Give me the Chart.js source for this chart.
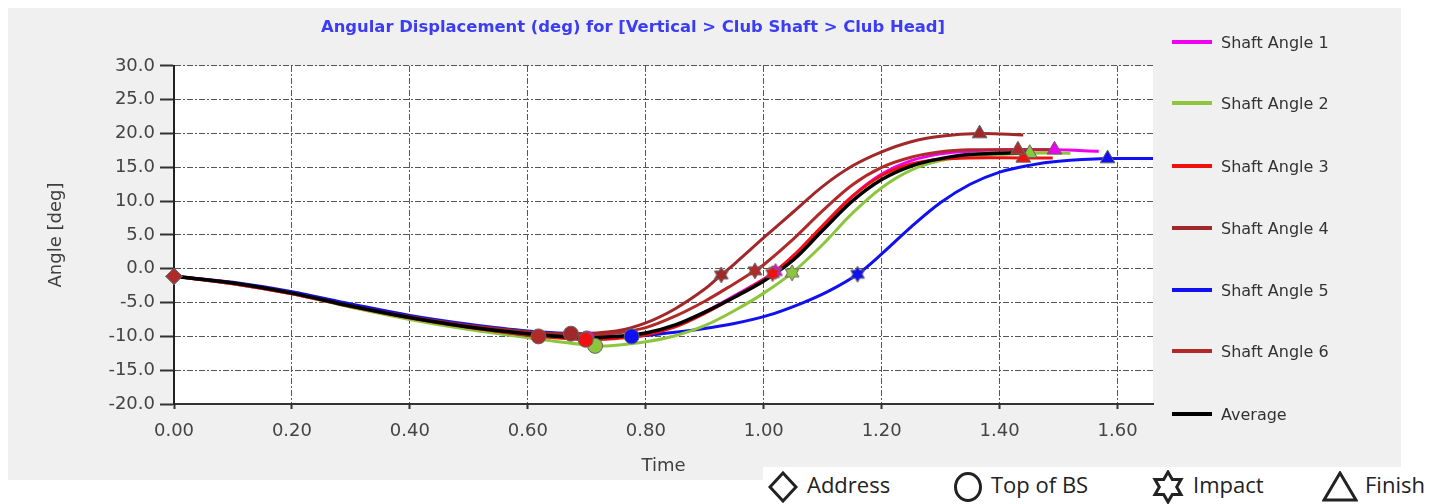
<!DOCTYPE html>
<html>
<head>
<meta charset="utf-8">
<script src="https://cdn.jsdelivr.net/npm/chart.js@4.4.1/dist/chart.umd.min.js"></script>
<style>
  body { margin: 0; width: 1444px; height: 504px; background: #fff; position: relative; overflow: hidden; font-family: "DejaVu Sans", sans-serif; }
  #panel { position: absolute; left: 8px; top: 8px; width: 1393px; height: 472px; background: #f0f0f0; }
  #chart { position: absolute; left: 0; top: 0; }
  #legend .item { position: absolute; left: 1164px; height: 20px; display: flex; align-items: center; font-size: 16px; color: #333; white-space: nowrap; }
  #legend .swatch { width: 40px; height: 4px; margin-right: 9px; }
  #events { position: absolute; left: 763px; top: 467px; width: 681px; height: 37px; background: #fff; font-family: "Open Sans", sans-serif; font-size: 22px; color: #222; }
  #events svg, #events span { position: absolute; }
  #events span { top: 4px; line-height: 26px; white-space: nowrap; }
</style>
</head>
<body>
<div id="panel">
  <canvas id="chart" width="1250" height="472"></canvas>
  <div id="legend"></div>
</div>
<div id="events">
  <svg style="left:5px;top:4px" width="30" height="32"><polygon points="15,2 28,16 15,30 2,16" fill="none" stroke="#222" stroke-width="3"/></svg>
  <span style="left:44px">Address</span>
  <svg style="left:190px;top:4px" width="30" height="32"><ellipse cx="15" cy="16" rx="12.5" ry="13.5" fill="none" stroke="#222" stroke-width="3"/></svg>
  <span style="left:228px">Top of BS</span>
  <svg id="starIcon" style="left:388px;top:3px" width="34" height="34"></svg>
  <span style="left:430px">Impact</span>
  <svg style="left:559px;top:4px" width="36" height="31"><polygon points="18,2 34,29 2,29" fill="none" stroke="#222" stroke-width="3"/></svg>
  <span style="left:602px">Finish</span>
</div>
<script>
// series
const seriesLabels = ['Shaft Angle 1', 'Shaft Angle 2', 'Shaft Angle 3', 'Shaft Angle 4', 'Shaft Angle 5', 'Shaft Angle 6', 'Average'];
const seriesColors = ['#f000f0', '#8dc63c', '#f01010', '#a0282a', '#1010f0', '#b02a2a', '#000000'];

const time1 = [0, 0.1, 0.2, 0.3, 0.4, 0.5, 0.6, 0.70, 0.75, 0.80, 0.85, 0.90, 0.95, 1.00, 1.02, 1.05, 1.10, 1.15, 1.20, 1.25, 1.30, 1.35, 1.40, 1.493, 1.568];
const shaft1 = [-1.1, -2.2, -3.7, -5.6, -7.3, -8.7, -9.7, -10.3, -10.1, -9.6, -8.4, -6.4, -4.0, -1.5, -0.4, 1.9, 6.3, 10.7, 14.0, 16.0, 17.0, 17.4, 17.6, 17.6, 17.4];

const time2 = [0, 0.1, 0.2, 0.3, 0.4, 0.5, 0.6, 0.714, 0.75, 0.80, 0.85, 0.90, 0.95, 1.00, 1.048, 1.10, 1.15, 1.20, 1.25, 1.30, 1.35, 1.40, 1.451, 1.52];
const shaft2 = [-1.1, -2.2, -3.7, -5.7, -7.5, -9.0, -10.2, -11.4, -11.3, -10.8, -9.9, -8.4, -6.2, -3.6, -0.6, 3.6, 8.2, 12.0, 14.6, 16.0, 16.6, 16.9, 17.1, 17.1];

const time3 = [0, 0.1, 0.2, 0.3, 0.4, 0.5, 0.6, 0.698, 0.75, 0.80, 0.85, 0.90, 0.95, 1.00, 1.015, 1.05, 1.10, 1.15, 1.20, 1.25, 1.30, 1.35, 1.44, 1.49];
const shaft3 = [-1.1, -2.2, -3.7, -5.6, -7.3, -8.7, -9.8, -10.5, -10.3, -9.8, -8.6, -6.6, -4.2, -1.6, -0.7, 1.9, 6.4, 10.7, 13.8, 15.5, 16.2, 16.4, 16.4, 16.4];

const time4 = [0, 0.1, 0.2, 0.3, 0.4, 0.5, 0.6, 0.673, 0.75, 0.80, 0.85, 0.90, 0.928, 0.95, 1.00, 1.05, 1.10, 1.15, 1.20, 1.25, 1.30, 1.366, 1.44];
const shaft4 = [-1.1, -2.1, -3.6, -5.5, -7.1, -8.4, -9.3, -9.6, -9.2, -8.0, -5.9, -3.0, -0.9, 0.7, 4.6, 8.4, 12.2, 15.2, 17.3, 18.8, 19.6, 20.0, 19.8];

const time5 = [0, 0.1, 0.2, 0.3, 0.4, 0.5, 0.6, 0.7, 0.776, 0.837, 0.894, 0.95, 1.007, 1.064, 1.11, 1.159, 1.20, 1.25, 1.30, 1.35, 1.40, 1.45, 1.50, 1.583, 1.66];
const shaft5 = [-1.1, -2.0, -3.4, -5.2, -6.9, -8.2, -9.2, -9.7, -10.0, -9.5, -8.9, -8.1, -6.9, -5.1, -3.3, -0.8, 2.2, 6.2, 9.8, 12.5, 14.3, 15.3, 15.9, 16.3, 16.3];

const time6 = [0, 0.1, 0.2, 0.3, 0.4, 0.5, 0.618, 0.70, 0.75, 0.80, 0.85, 0.90, 0.95, 0.985, 1.00, 1.05, 1.10, 1.15, 1.20, 1.25, 1.30, 1.35, 1.431, 1.50];
const shaft6 = [-1.1, -2.1, -3.6, -5.5, -7.2, -8.6, -10.0, -9.9, -9.5, -8.7, -7.0, -4.8, -2.2, -0.3, 0.6, 4.4, 8.6, 12.4, 15.0, 16.5, 17.3, 17.6, 17.6, 17.6];

const timeAvg = [0, 0.1, 0.2, 0.3, 0.4, 0.5, 0.6, 0.70, 0.75, 0.80, 0.85, 0.90, 0.95, 1.00, 1.05, 1.10, 1.15, 1.20, 1.25, 1.30, 1.35, 1.45];
const average = [-1.1, -2.1, -3.6, -5.5, -7.2, -8.6, -9.6, -10.2, -10.0, -9.5, -8.3, -6.4, -4.2, -1.8, 1.3, 5.7, 10.0, 13.2, 15.2, 16.3, 16.9, 17.2];

// swing events, one entry per shaft (1..6)
const addressTimes = [0, 0, 0, 0, 0, 0];
const topTimes = [0.70, 0.714, 0.698, 0.673, 0.776, 0.618];
const impactTimes = [1.02, 1.048, 1.015, 0.928, 1.159, 0.985];
const finishTimes = [1.493, 1.451, 1.44, 1.366, 1.583, 1.431];

const yTicks = {min: -20, max: 30, step: 5};
const xTicks = {min: 0, max: 1.66, step: 0.2};

const times = [time1, time2, time3, time4, time5, time6, timeAvg];
const values = [shaft1, shaft2, shaft3, shaft4, shaft5, shaft6, average];

function toPoints(t, v) {
    return t.map((x, i) => ({x: x, y: v[i]}));
}
function angleAt(s, t) {
    return values[s][times[s].indexOf(t)];
}

function hexStar(color, r, stroke, lw) {
    const c = document.createElement('canvas');
    const s = Math.ceil(r * 2 + lw * 2 + 2);
    c.width = s;
    c.height = s;
    const g = c.getContext('2d');
    g.translate(s / 2, s / 2);
    g.beginPath();
    for (let i = 0; i < 12; i++) {
        const a = -Math.PI / 2 + i * Math.PI / 6;
        const rr = i % 2 ? r / Math.sqrt(3) : r;
        g.lineTo(rr * Math.cos(a), rr * Math.sin(a));
    }
    g.closePath();
    g.fillStyle = color;
    g.fill();
    g.strokeStyle = stroke;
    g.lineWidth = lw;
    g.stroke();
    return c;
}

// draw order: markers on top, then average, shaft 6, 4, 3, 2, 1, 5
const lineOrder = [6, 5, 4, 3, 7, 2, 1];
const datasets = [];
for (let s = 5; s >= 0; s--) {
    datasets.push({
        label: seriesLabels[s] + ' events',
        data: [
            {x: addressTimes[s], y: angleAt(s, addressTimes[s])},
            {x: topTimes[s], y: angleAt(s, topTimes[s])},
            {x: impactTimes[s], y: angleAt(s, impactTimes[s])},
            {x: finishTimes[s], y: angleAt(s, finishTimes[s])}
        ],
        showLine: false,
        order: 0,
        clip: false,
        pointStyle: ['rectRot', 'circle', hexStar(seriesColors[s], 8, '#666', 1), 'triangle'],
        pointRadius: [8, 7.5, 7, 8.5],
        backgroundColor: seriesColors[s],
        borderColor: '#666',
        borderWidth: 1
    });
}
for (let s = 0; s < 7; s++) {
    datasets.push({
        label: seriesLabels[s],
        data: toPoints(times[s], values[s]),
        borderColor: seriesColors[s],
        backgroundColor: seriesColors[s],
        borderWidth: s === 6 ? 3.5 : 3,
        pointRadius: 0,
        tension: 0.35,
        order: lineOrder[s]
    });
}

// html legend for the series
const legend = document.getElementById('legend');
const legendY = [34, 95, 158, 220, 282, 343, 406];
seriesLabels.forEach((name, i) => {
    const d = document.createElement('div');
    d.className = 'item';
    d.style.top = (legendY[i] - 10) + 'px';
    d.innerHTML = '<div class="swatch" style="background:' + seriesColors[i] + '"></div>' + name;
    legend.appendChild(d);
});

// star icon in the event key
const star = document.getElementById('starIcon');
let pts = [];
for (let i = 0; i < 12; i++) {
    const a = -Math.PI / 2 + i * Math.PI / 6;
    const rr = i % 2 ? 15 / Math.sqrt(3) : 15;
    pts.push((17 + rr * Math.cos(a)).toFixed(1) + ',' + (17 + rr * Math.sin(a)).toFixed(1));
}
star.innerHTML = '<polygon points="' + pts.join(' ') + '" fill="none" stroke="#222" stroke-width="3"/>';

const plotBackground = {
    id: 'plotBackground',
    beforeDraw(chart) {
        const a = chart.chartArea;
        chart.ctx.save();
        chart.ctx.fillStyle = '#ffffff';
        chart.ctx.fillRect(a.left, a.top, a.right - a.left, a.bottom - a.top);
        chart.ctx.restore();
    }
};

new Chart(document.getElementById('chart'), {
    type: 'line',
    data: {datasets: datasets},
    plugins: [plotBackground],
    options: {
        responsive: false,
        animation: false,
        devicePixelRatio: 1,
        layout: {padding: 0},
        plugins: {
            legend: {display: false},
            tooltip: {enabled: false},
            title: {
                display: true,
                text: 'Angular Displacement (deg) for [Vertical > Club Shaft > Club Head]',
                color: '#3c3cf5',
                font: {family: 'DejaVu Sans', size: 16.4, weight: 'bold'},
                padding: {top: 10, bottom: 28.3}
            }
        },
        scales: {
            x: {
                type: 'linear',
                min: xTicks.min,
                max: xTicks.max,
                afterFit: function (scale) { scale.height = 76; },
                ticks: {
                    stepSize: xTicks.step,
                    includeBounds: false,
                    maxRotation: 0,
                    autoSkip: false,
                    padding: 12,
                    color: '#444',
                    font: {family: 'DejaVu Sans', size: 18},
                    callback: v => v.toFixed(2)
                },
                grid: {color: '#555', lineWidth: 1, tickLength: 5, tickColor: '#333', tickWidth: 2},
                border: {color: '#333', width: 2, dash: [6, 2, 2, 2]},
                title: {
                    display: true,
                    text: 'Time',
                    color: '#404040',
                    font: {family: 'DejaVu Sans', size: 18},
                    padding: {top: 0, bottom: 3}
                }
            },
            y: {
                min: yTicks.min,
                max: yTicks.max,
                afterFit: function (scale) { scale.width = 166; },
                ticks: {
                    stepSize: yTicks.step,
                    padding: 5,
                    color: '#444',
                    font: {family: 'DejaVu Sans', size: 18},
                    callback: v => v.toFixed(1)
                },
                grid: {color: '#555', lineWidth: 1, tickLength: 14, tickColor: '#333', tickWidth: 2},
                border: {color: '#222', width: 2, dash: [6, 2, 2, 2]},
                title: {
                    display: true,
                    text: 'Angle [deg]',
                    color: '#404040',
                    font: {family: 'DejaVu Sans', size: 18},
                    padding: {top: 38, bottom: 0}
                }
            },
            // empty right-hand axis that keeps room between the plot and the legend
            spacer: {
                type: 'linear',
                position: 'right',
                display: true,
                min: yTicks.min,
                max: yTicks.max,
                afterFit: function (scale) { scale.width = 105; },
                ticks: {display: false},
                grid: {display: false, drawTicks: false},
                border: {display: false}
            }
        }
    }
});
</script>
</body>
</html>
